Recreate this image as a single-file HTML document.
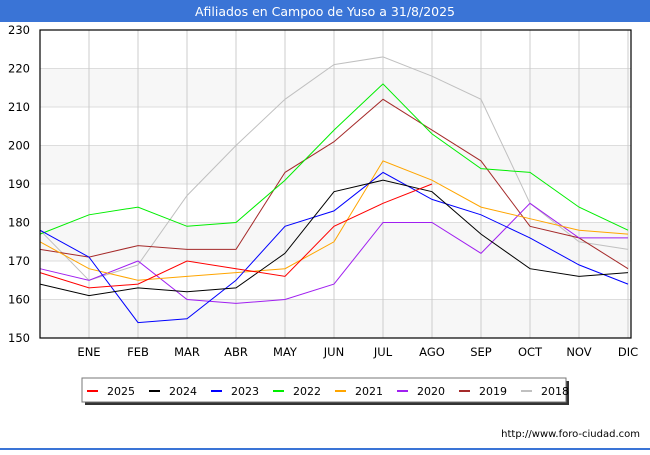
<!DOCTYPE html>
<html><head><meta charset="utf-8"><style>
body{margin:0;background:#fff;font-family:"Liberation Sans","DejaVu Sans",sans-serif;}
</style></head><body>
<svg id="chart" width="650" height="450" xmlns="http://www.w3.org/2000/svg" font-family="DejaVu Sans, Liberation Sans, sans-serif">
<rect x="0" y="0" width="650" height="22" fill="#3a74d6"/>
<text x="325" y="16" text-anchor="middle" font-size="12.5" fill="#fff">Afiliados en Campoo de Yuso a 31/8/2025</text>
<g id="bands"></g><g id="grid"></g><g id="series"></g>
<rect x="40" y="30" width="591" height="308" fill="none" stroke="#000" stroke-width="1.2"/>
<g id="axes" font-size="11.5" fill="#000"></g>
<rect x="85" y="381" width="484" height="24" fill="#333"/>
<rect x="82" y="378" width="484" height="24" fill="#fff" stroke="#777"/>
<g id="legend" font-size="11"></g>
<text x="640" y="437" text-anchor="end" font-size="10" fill="#000">http://www.foro-ciudad.com</text>
<rect x="0" y="448" width="650" height="2" fill="#3a74d6"/>
</svg>
<script>
const months=["","ENE","FEB","MAR","ABR","MAY","JUN","JUL","AGO","SEP","OCT","NOV","DIC"];
const yTicks=[150,160,170,180,190,200,210,220,230];
const years=["2025","2024","2023","2022","2021","2020","2019","2018"];
const colors=["#ff0000","#000000","#0000ff","#00ee00","#ffa500","#a020f0","#a52a2a","#c0c0c0"];
const s2025=[167,163,164,170,168,166,179,185,190];
const s2024=[164,161,163,162,163,172,188,191,188,177,168,166,167];
const s2023=[178,171,154,155,165,179,183,193,186,182,176,169,164];
const s2022=[177,182,184,179,180,191,204,216,203,194,193,184,178];
const s2021=[175,168,165,166,167,168,175,196,191,184,181,178,177];
const s2020=[168,165,170,160,159,160,164,180,180,172,185,176,176];
const s2019=[173,171,174,173,173,193,201,212,204,196,179,176,168];
const s2018=[178,165,169,187,200,212,221,223,218,212,185,175,173];
const seriesData=[s2025,s2024,s2023,s2022,s2021,s2020,s2019,s2018];
const NS="http://www.w3.org/2000/svg";
const x=i=>40+i*49;
const y=v=>338-(v-150)*308/80;
function mk(tag,attrs,parent){const e=document.createElementNS(NS,tag);for(const k in attrs)e.setAttribute(k,attrs[k]);document.getElementById(parent).appendChild(e);return e;}
for(let i=0;i<yTicks.length-1;i++){
  if(i%2===0){const r=mk('rect',{x:40,y:y(yTicks[i+1]),width:591,height:y(yTicks[i])-y(yTicks[i+1]),fill:'#f7f7f7'},'bands');
  
  }
}
yTicks.forEach(t=>{
  const l=mk('line',{x1:40,x2:631,y1:y(t),y2:y(t),stroke:'#dddddd'},'grid');
  
  
  const tx=mk('text',{x:30,y:y(t)+4,'text-anchor':'end'},'axes');tx.textContent=t;
  
  
});
months.forEach((m,i)=>{
  const l=mk('line',{x1:x(i),x2:x(i),y1:30,y2:338,stroke:'#cccccc'},'grid');
  
  
  if(m){const tx=mk('text',{x:x(i),y:356,'text-anchor':'middle'},'axes');tx.textContent=m;
  
  }
});
for(let k=seriesData.length-1;k>=0;k--){
  const pts=seriesData[k].map((v,i)=>x(i)+','+y(v).toFixed(1)).join(' ');
  const p=mk('polyline',{points:pts,fill:'none',stroke:colors[k],'stroke-width':1},'series');
  
  
}
years.forEach((yr,k)=>{
  const bx=87+k*62;
  const sw=mk('rect',{x:bx,y:390,width:11,height:2,fill:colors[k]},'legend');
  
  
  const t=mk('text',{x:bx+20,y:395},'legend');t.textContent=yr;
  
  
});
</script>
</body></html>
